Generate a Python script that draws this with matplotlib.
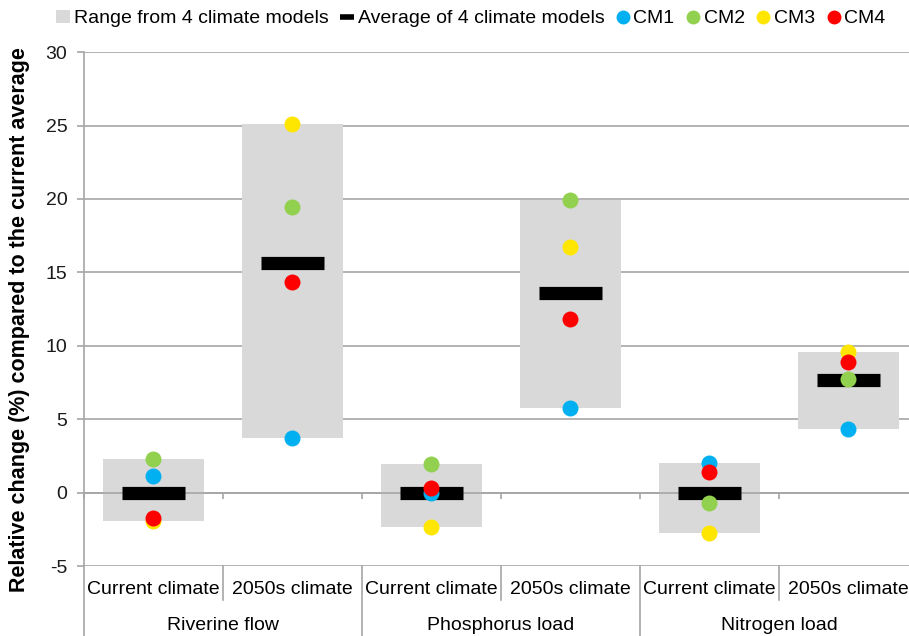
"""Relative change per variable: range, average and individual climate models."""

import numpy as np
import matplotlib
matplotlib.use("Agg")
import matplotlib.pyplot as plt
from matplotlib.lines import Line2D
from matplotlib.patches import Patch
from matplotlib.transforms import blended_transform_factory

plt.rcParams["font.family"] = ["Liberation Sans", "DejaVu Sans"]
plt.rcParams["axes.unicode_minus"] = False

# data
groups = ["Riverine flow", "Phosphorus load", "Nitrogen load"]
periods = ["Current climate", "2050s climate"]
cm1 = [1.15, 3.75, 0.0, 5.75, 2.0, 4.3]
cm2 = [2.3, 19.45, 1.95, 19.95, -0.7, 7.75]
cm3 = [-1.9, 25.1, -2.35, 16.75, -2.75, 9.6]
cm4 = [-1.7, 14.35, 0.32, 11.8, 1.4, 8.9]

model_names = ["CM1", "CM2", "CM3", "CM4"]
model_colors = ["#00B0F0", "#92D050", "#FFE600", "#FF0000"]
range_color = "#D9D9D9"
grid_color = "#A6A6A6"

models = np.array([cm1, cm2, cm3, cm4])
lo = models.min(axis=0)
hi = models.max(axis=0)
avg = models.mean(axis=0)
x = np.arange(models.shape[1])

fig = plt.figure(figsize=(9.09, 6.36), dpi=100)
# axes run slightly past the right edge, as in the original crop
ax = fig.add_axes([0.0924, 0.110, 0.9175, 0.808])

ax.bar(x, hi - lo, bottom=lo, width=0.72, color=range_color, zorder=2)
ax.hlines(avg, x - 0.23, x + 0.23, colors="black", linewidth=9.5,
          capstyle="butt", zorder=3)
for vals, col in zip(models, model_colors):
    ax.plot(x, vals, "o", color=col, markersize=11.5, markeredgewidth=0,
            zorder=4)

ax.set_xlim(-0.5, len(x) - 0.5)
ax.set_ylim(-5, 30)
ax.set_yticks(np.arange(-5, 31, 5))
ax.yaxis.grid(True, color=grid_color, linewidth=1.2, zorder=0)
ax.set_axisbelow(True)

for s in ["top", "right"]:
    ax.spines[s].set_visible(False)
ax.spines["left"].set_color(grid_color)
ax.spines["left"].set_linewidth(1.2)
ax.spines["bottom"].set_position(("data", 0))
ax.spines["bottom"].set_color(grid_color)
ax.spines["bottom"].set_linewidth(1.2)
ax.set_xticks(np.arange(-0.5, len(x), 1.0))
ax.tick_params(axis="x", length=4, color=grid_color, width=1.2,
               labelbottom=False)
ax.tick_params(axis="y", length=5, color=grid_color, width=1.2, pad=7,
               labelsize=14, labelcolor="#1a1a1a")

# category table under the plot
trans = blended_transform_factory(ax.transData, ax.transAxes)
for i in x:
    ax.text(i, -0.045, periods[i % 2], transform=trans, ha="center",
            va="center", fontsize=14)
for i in range(0, len(x) + 1):
    y_end = -0.14 if i % 2 == 0 else -0.066
    ax.add_line(Line2D([i - 0.5, i - 0.5], [0, y_end], transform=trans,
                       color=grid_color, linewidth=1.2, clip_on=False))
for j, g in enumerate(groups):
    ax.text(2 * j + 0.5, -0.115, g, transform=trans, ha="center",
            va="center", fontsize=14)

fig.text(0.022, 0.497, "Relative change (%) compared to the current average",
         rotation=90, ha="center", va="center", fontsize=15.5,
         fontweight="bold")

handles = [Patch(facecolor=range_color, edgecolor="none"),
           Line2D([], [], color="black", linewidth=4, solid_capstyle="butt")]
handles += [Line2D([], [], marker="o", linestyle="none", color=c,
                   markersize=10, markeredgewidth=0) for c in model_colors]
labels = ["Range from 4 climate models", "Average of 4 climate models"] + model_names
fig.legend(handles, labels, loc="upper center", bbox_to_anchor=(0.518, 1.012),
           ncol=6, frameon=False, fontsize=14, handlelength=0.7,
           handleheight=0.7, handletextpad=0.2, columnspacing=0.6)

fig.savefig("out.png", dpi=100)
plt.close(fig)
